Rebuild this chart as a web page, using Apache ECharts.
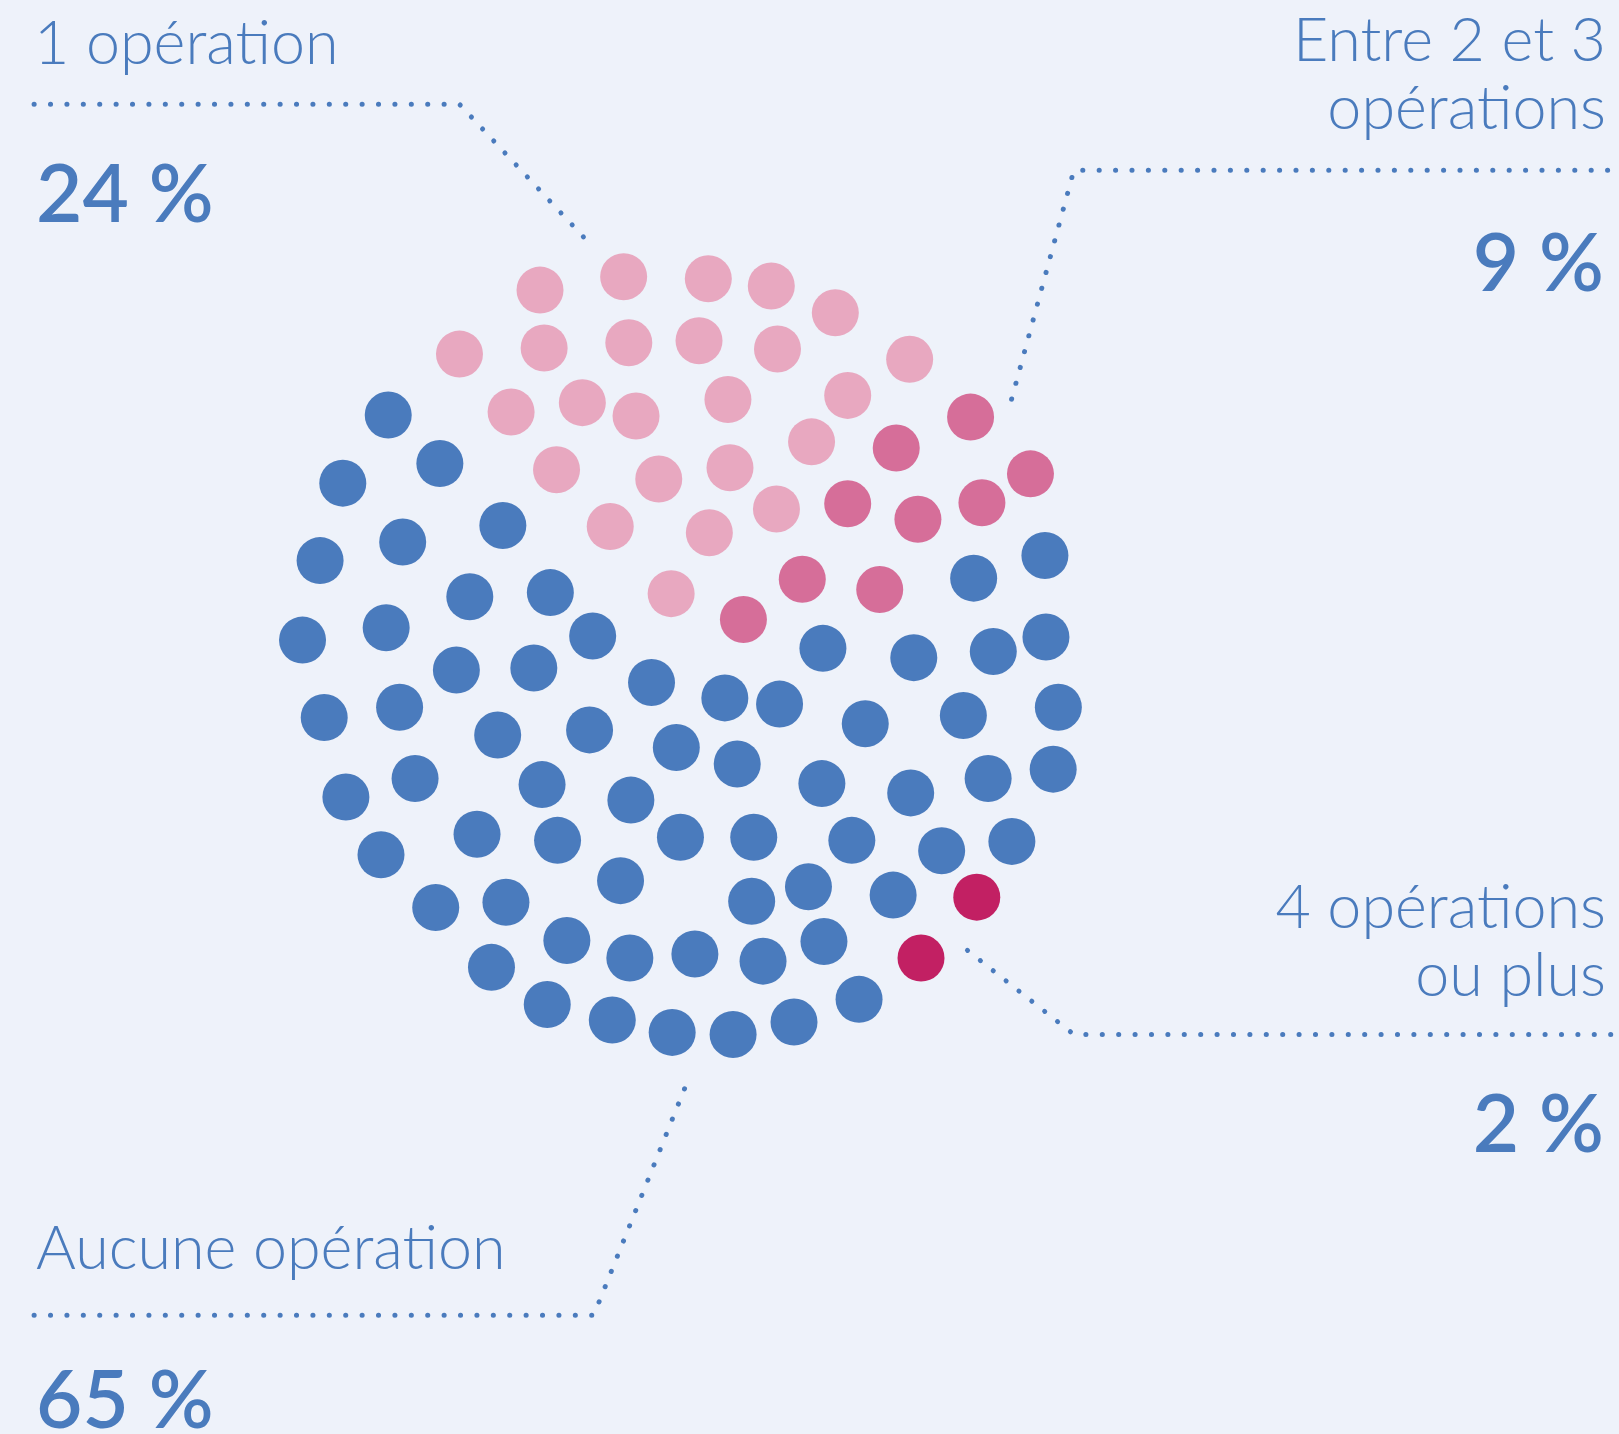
<!DOCTYPE html>
<html>
<head>
<meta charset="utf-8">
<title>Nombre d'opérations</title>
<script src="https://cdn.jsdelivr.net/npm/echarts@6/dist/echarts.min.js"></script>
<style>
  html, body { margin: 0; padding: 0; background: #eef2fa; }
  #chart { width: 1619px; height: 1434px; }
</style>
</head>
<body>
<div id="chart"></div>
<script>
// catégories et parts (%)
// \u200c : évite la ligature « ti » de Lato
const categories = ['Aucune opéra\u200ction', '1 opéra\u200ction', 'Entre 2 et 3\nopéra\u200ctions', '4 opéra\u200ctions\nou plus']
const shares = [65, 24, 9, 2]

// une pastille = 1 %, positions (repère 1568 x 1389)
const aucune = [
  [376, 402], [426, 449], [332, 468], [487, 509], [390, 525], [310, 543], [455, 578], [533, 574],
  [374, 608], [293, 620], [574, 616], [442, 649], [517, 647], [631, 661], [387, 685], [314, 695],
  [482, 712], [571, 707], [702, 676], [755, 682], [797, 628], [885, 637], [943, 560], [1012, 538],
  [962, 631], [1013, 617], [838, 701], [933, 693], [1025, 685], [655, 724], [714, 740], [402, 754],
  [335, 772], [525, 760], [611, 775], [796, 759], [882, 768], [957, 754], [1020, 745], [369, 828],
  [462, 808], [540, 814], [659, 811], [730, 811], [825, 814], [912, 824], [980, 815], [422, 879],
  [490, 874], [601, 853], [728, 873], [783, 859], [865, 867], [476, 937], [549, 911], [610, 928],
  [673, 924], [739, 931], [798, 912], [530, 973], [593, 988], [651, 1000], [710, 1002], [769, 990],
  [832, 968]
]
const uneOp = [
  [523, 281], [604, 268], [686, 270], [747, 277], [809, 303], [445, 343], [527, 337], [609, 332],
  [677, 330], [753, 338], [881, 348], [495, 399], [564, 390], [616, 403], [705, 387], [821, 383],
  [786, 428], [539, 455], [638, 464], [707, 453], [752, 493], [591, 510], [687, 516], [650, 575]
]
const deuxTrois = [
  [940, 404], [868, 434], [998, 459], [821, 488], [951, 487], [889, 503], [777, 561], [852, 571],
  [720, 600]
]
const quatrePlus = [[946, 869], [892, 928]]

// lignes de rappel pointillées (partent du côté du texte)
const leaders = [
  [[33, 1274], [575, 1274], [668, 1042]],
  [[33, 101], [445, 101], [573, 238]],
  [[1557, 165], [1040, 165], [978, 393]],
  [[1560, 1002], [1040, 1002], [930, 915]]
]

const colors = ['#4a7bbd', '#e8a8c0', '#d66e99', '#c22063']
const textColor = '#4a7bbd'
const font = 'Lato'

const chart = echarts.init(document.getElementById('chart'))

function dots (name, data, color) {
  return {
    name: name,
    type: 'scatter',
    symbol: 'circle',
    symbolSize: 47,
    silent: true,
    itemStyle: { color: color, opacity: 1 },
    data: data
  }
}

function label (text, x, y, size, weight, align) {
  return {
    type: 'text',
    x: x,
    y: y,
    style: {
      text: text,
      fill: textColor,
      font: weight + ' ' + size + 'px ' + font,
      align: align,
      verticalAlign: 'middle',
      lineHeight: 68
    }
  }
}

const option = {
  backgroundColor: '#eef2fa',
  animation: false,
  grid: { left: 0, right: 0, top: 0, bottom: 0 },
  xAxis: { type: 'value', min: 0, max: 1568, show: false },
  yAxis: { type: 'value', min: 0, max: 1389, inverse: true, show: false },
  series: [
    dots(categories[0], aucune, colors[0]),
    dots(categories[1], uneOp, colors[1]),
    dots(categories[2], deuxTrois, colors[2]),
    dots(categories[3], quatrePlus, colors[3]),
    {
      type: 'lines',
      coordinateSystem: 'cartesian2d',
      polyline: true,
      silent: true,
      lineStyle: {
        color: textColor,
        width: 5,
        type: [0.1, 16.3],
        cap: 'round',
        opacity: 1
      },
      data: leaders.map(c => ({ coords: c }))
    }
  ],
  graphic: [
    label(categories[1], 34, 44, 61, 300, 'left'),
    label(shares[1] + ' %', 36, 196, 80, 600, 'left'),
    label(categories[2], 1606, 75, 61, 300, 'right'),
    label(shares[2] + ' %', 1604, 265, 80, 600, 'right'),
    label(categories[3], 1606, 942, 61, 300, 'right'),
    label(shares[3] + ' %', 1604, 1126, 80, 600, 'right'),
    label(categories[0], 36, 1249, 61, 300, 'left'),
    label(shares[0] + ' %', 36, 1402, 80, 600, 'left')
  ]
}

chart.setOption(option)
</script>
</body>
</html>
